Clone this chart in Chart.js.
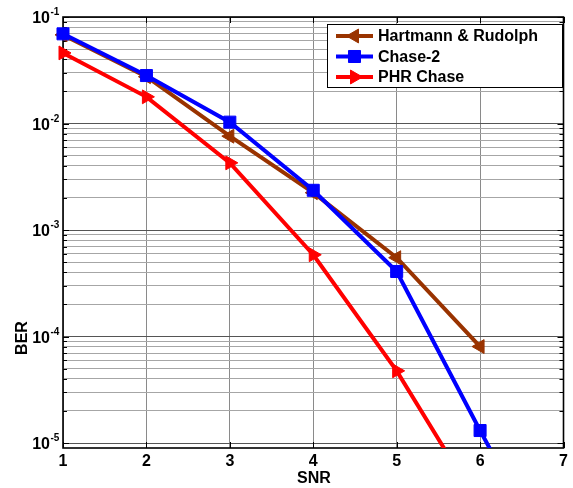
<!DOCTYPE html>
<html>
<head>
<meta charset="utf-8">
<script src="https://cdn.jsdelivr.net/npm/chart.js@4.4.1/dist/chart.umd.min.js"></script>
<style>
html,body{margin:0;padding:0;background:#fff;}
#wrap{width:573px;height:488px;}
</style>
</head>
<body>
<div id="wrap"><canvas id="c" width="573" height="488"></canvas></div>
<script>
// ---- data ----
const snrTicks = [1, 2, 3, 4, 5, 6, 7];
const yDecades = [-1, -2, -3, -4, -5];

const seriesNames = ['Hartmann & Rudolph', 'Chase-2', 'PHR Chase'];
const snrHartmann = [1, 2, 3, 4, 5, 6];
const berHartmann = [0.068, 0.0275, 0.0076, 0.00224, 0.00055, 0.0000805];
const snrChase2 = [1, 2, 3, 4, 5, 6, 7];
const berChase2 = [0.0695, 0.0282, 0.0103, 0.00236, 0.000408, 0.0000131, 0.00000047];
const snrPHR = [1, 2, 3, 4, 5, 6];
const berPHR = [0.046, 0.0178, 0.00427, 0.000586, 0.0000476, 0.0000025];

const colors = ['#993300', '#0000ff', '#ff0000'];
const FONT = "'Liberation Sans', Arial, Helvetica, sans-serif";

function pts(xs, ys) { return xs.map((x, i) => ({x: x, y: ys[i]})); }
function isDecade(v) { const l = Math.log10(v); return Math.abs(l - Math.round(l)) < 1e-6; }

const clipOpt = {left: 14, right: 14, top: 14, bottom: 0};

const decorPlugin = {
  id: 'decor',
  beforeDatasetsDraw(chart) {
    const ctx = chart.ctx, a = chart.chartArea, ys = chart.scales.y, xs = chart.scales.x;
    ctx.save();
    ctx.strokeStyle = '#000';
    ctx.lineWidth = 1;
    // inner tick marks
    ctx.beginPath();
    ys.ticks.forEach(t => {
      const y = Math.round(ys.getPixelForValue(t.value)) + 0.5;
      const len = isDecade(t.value) ? 6 : 4;
      ctx.moveTo(a.left, y); ctx.lineTo(a.left + len, y);
      ctx.moveTo(a.right, y); ctx.lineTo(a.right - len, y);
    });
    snrTicks.forEach(v => {
      const x = Math.round(xs.getPixelForValue(v)) + 0.5;
      ctx.moveTo(x, a.bottom); ctx.lineTo(x, a.bottom - 6);
      ctx.moveTo(x, a.top); ctx.lineTo(x, a.top + 6);
    });
    ctx.stroke();
    // frame
    ctx.lineWidth = 1.6;
    ctx.strokeRect(a.left, a.top, a.right - a.left, a.bottom - a.top);
    ctx.restore();
  },
  afterDraw(chart) {
    const ctx = chart.ctx, a = chart.chartArea, ys = chart.scales.y;
    ctx.save();
    ctx.fillStyle = '#000';
    // y tick labels 10^e
    yDecades.forEach(e => {
      const y = ys.getPixelForValue(Math.pow(10, e));
      ctx.font = 'bold 16px ' + FONT;
      ctx.textAlign = 'right';
      ctx.textBaseline = 'alphabetic';
      ctx.fillText('10', 50, y + 6);
      ctx.font = 'bold 10px ' + FONT;
      ctx.textAlign = 'left';
      ctx.fillText(String(e), 50.5, y - 2);
    });
    // axis titles
    ctx.font = 'bold 16px ' + FONT;
    ctx.textAlign = 'center';
    ctx.textBaseline = 'middle';
    ctx.fillText('SNR', 314, 479);
    ctx.save();
    ctx.translate(23, 338);
    ctx.rotate(-Math.PI / 2);
    ctx.fillText('BER', 0, 0);
    ctx.restore();
    // legend
    const lx = 327.5, ly = 24.5, lw = 235, lh = 63;
    ctx.fillStyle = '#fff';
    ctx.fillRect(lx, ly, lw, lh);
    ctx.strokeStyle = '#000';
    ctx.lineWidth = 1;
    ctx.strokeRect(lx, ly, lw, lh);
    const rowsY = [36, 56.5, 77];
    const rotations = [270, 0, 90];
    const styles = ['triangle', 'rect', 'triangle'];
    const radii = [8, 8.5, 8];
    seriesNames.forEach((name, i) => {
      const y = rowsY[i];
      ctx.strokeStyle = colors[i];
      ctx.lineWidth = 4;
      ctx.beginPath();
      ctx.moveTo(336, y); ctx.lineTo(373, y);
      ctx.stroke();
      ctx.fillStyle = colors[i];
      ctx.lineWidth = 1;
      Chart.helpers.drawPoint(ctx, {pointStyle: styles[i], radius: radii[i], rotation: rotations[i], borderWidth: 1}, 354.5, y);
      ctx.fillStyle = '#000';
      ctx.font = 'bold 16px ' + FONT;
      ctx.textAlign = 'left';
      ctx.textBaseline = 'middle';
      ctx.fillText(name, 378, y + 1);
    });
    ctx.restore();
  }
};

const chart = new Chart(document.getElementById('c'), {
  type: 'line',
  data: {
    datasets: [
      {
        label: seriesNames[1], data: pts(snrChase2, berChase2),
        borderColor: colors[1], backgroundColor: colors[1], borderWidth: 4,
        pointStyle: 'rect', pointRadius: 8.5, pointBorderWidth: 1, pointRotation: 0,
        order: 0, clip: clipOpt
      },
      {
        label: seriesNames[0], data: pts(snrHartmann, berHartmann),
        borderColor: colors[0], backgroundColor: colors[0], borderWidth: 4,
        pointStyle: 'triangle', pointRadius: 8, pointBorderWidth: 1, pointRotation: 270,
        order: 1, clip: clipOpt
      },
      {
        label: seriesNames[2], data: pts(snrPHR, berPHR),
        borderColor: colors[2], backgroundColor: colors[2], borderWidth: 4,
        pointStyle: 'triangle', pointRadius: 8, pointBorderWidth: 1, pointRotation: 90,
        order: 2, clip: clipOpt
      }
    ]
  },
  options: {
    responsive: false,
    animation: false,
    devicePixelRatio: 1,
    layout: {padding: {top: 17, right: 7, left: 0, bottom: 0}},
    plugins: {legend: {display: false}, tooltip: {enabled: false}},
    elements: {line: {tension: 0}},
    scales: {
      x: {
        type: 'linear', min: 1, max: 7,
        afterFit(s) { s.height = 40; },
        afterBuildTicks(s) { s.ticks = snrTicks.map(v => ({value: v})); },
        ticks: {
          autoSkip: false, maxRotation: 0, padding: 4, color: '#000',
          font: {family: FONT, size: 16, weight: 'bold'},
          callback: v => String(v)
        },
        grid: {color: '#8a8a8a', lineWidth: 1, drawTicks: false},
        border: {display: false}
      },
      y: {
        type: 'logarithmic', min: 8.98e-6, max: 0.1,
        afterFit(s) { s.width = 63; },
        afterBuildTicks(s) {
          const t = [];
          for (let e = -5; e <= -1; e++) {
            for (let k = 1; k <= 9; k++) {
              const v = k * Math.pow(10, e);
              if (v <= 0.1 * 1.0000001) t.push({value: v});
            }
          }
          s.ticks = t;
        },
        ticks: {display: false},
        grid: {
          color: c => (c.tick && isDecade(c.tick.value)) ? '#555555' : '#a6a6a6',
          lineWidth: 1, drawTicks: false
        },
        border: {display: false}
      }
    }
  },
  plugins: [decorPlugin]
});
</script>
</body>
</html>
